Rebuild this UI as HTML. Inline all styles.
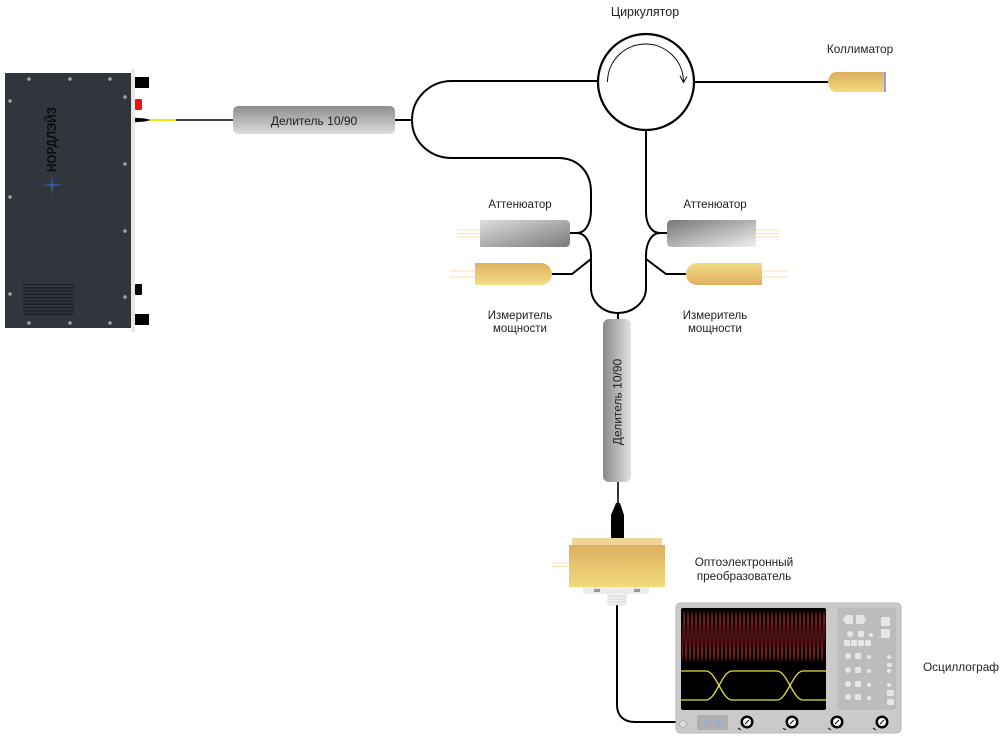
<!DOCTYPE html>
<html><head><meta charset="utf-8"><style>
html,body{margin:0;padding:0;background:#fff;}
svg{display:block;}
text{font-family:"Liberation Sans",sans-serif;fill:#222;}
</style></head><body>
<svg width="1002" height="740" viewBox="0 0 1002 740" xmlns="http://www.w3.org/2000/svg">
<defs>
<linearGradient id="gs1" x1="0" y1="0" x2="0" y2="1"><stop offset="0" stop-color="#8e8e8e"/><stop offset="1" stop-color="#dcdcdc"/></linearGradient>
<linearGradient id="gs2" x1="0" y1="0" x2="1" y2="0"><stop offset="0" stop-color="#888"/><stop offset="1" stop-color="#e2e2e2"/></linearGradient>
<linearGradient id="gaL" x1="0" y1="0" x2="1" y2="1"><stop offset="0" stop-color="#dedede"/><stop offset="1" stop-color="#7a7a7a"/></linearGradient>
<linearGradient id="gaR" x1="0" y1="0" x2="1" y2="1"><stop offset="0" stop-color="#777"/><stop offset="1" stop-color="#f0f0f0"/></linearGradient>
<linearGradient id="gpL" x1="0" y1="0" x2="0" y2="1"><stop offset="0" stop-color="#dfb062"/><stop offset="1" stop-color="#f3de88"/></linearGradient>
<linearGradient id="gpR" x1="0" y1="0" x2="0" y2="1"><stop offset="0" stop-color="#f2dc86"/><stop offset="1" stop-color="#dfb062"/></linearGradient>
<linearGradient id="gc" x1="0" y1="0" x2="0" y2="1"><stop offset="0" stop-color="#deae60"/><stop offset="1" stop-color="#f1da7c"/></linearGradient>
<linearGradient id="gst" x1="0" y1="0" x2="1" y2="1"><stop offset="0" stop-color="#3a2a8a"/><stop offset="1" stop-color="#2f8ad0"/></linearGradient>
<pattern id="wv" width="4" height="50" patternUnits="userSpaceOnUse" x="682" y="611">
<path d="M0,50 C1.1,50 0.9,0 2,0 C3.1,0 2.9,50 4,50" stroke="#b22626" stroke-width="0.8" fill="none"/>
</pattern>
</defs>

<!-- Laser box -->
<rect x="5" y="73" width="126" height="255" fill="#31363d"/>
<rect x="131" y="69" width="4" height="263" fill="#e9e7df"/>
<g fill="#a0a3a7">
<circle cx="29" cy="79" r="1.8"/><circle cx="70" cy="79" r="1.8"/><circle cx="110" cy="79" r="1.8"/>
<circle cx="29" cy="323" r="1.8"/><circle cx="70" cy="323" r="1.8"/><circle cx="110" cy="323" r="1.8"/>
<circle cx="10" cy="101" r="1.8"/><circle cx="10" cy="197" r="1.8"/><circle cx="10" cy="294" r="1.8"/>
<circle cx="125" cy="97" r="1.8"/><circle cx="125" cy="164" r="1.8"/><circle cx="125" cy="231" r="1.8"/><circle cx="125" cy="297" r="1.8"/>
</g>
<g stroke="#15181c" stroke-width="1">
<line x1="23" y1="284.5" x2="74" y2="284.5"/><line x1="23" y1="287.8" x2="74" y2="287.8"/>
<line x1="23" y1="291.1" x2="74" y2="291.1"/><line x1="23" y1="294.4" x2="74" y2="294.4"/>
<line x1="23" y1="297.7" x2="74" y2="297.7"/><line x1="23" y1="301" x2="74" y2="301"/>
<line x1="23" y1="304.3" x2="74" y2="304.3"/><line x1="23" y1="307.6" x2="74" y2="307.6"/>
<line x1="23" y1="310.9" x2="74" y2="310.9"/><line x1="23" y1="314" x2="74" y2="314"/>
</g>
<text transform="translate(56,139.5) rotate(-90)" text-anchor="middle" font-size="13" font-weight="bold" textLength="65" lengthAdjust="spacingAndGlyphs" style="fill:#0c0c0c">НОРДЛЭЙЗ</text>
<path d="M41,185 L51,184 L52,175 L53,184 L63,185 L53,186 L52,195 L51,186 Z" fill="url(#gst)"/>
<rect x="135" y="77" width="14" height="11" fill="#000"/>
<rect x="135" y="99" width="7" height="11" rx="1" fill="#f01010"/>
<rect x="135" y="284" width="7" height="11" rx="1" fill="#000"/>
<rect x="135" y="314" width="14" height="11" fill="#000"/>
<path d="M135,117.8 L145,118.5 L151,120 L145,121.5 L135,122.2 Z" fill="#000"/>
<line x1="150" y1="120" x2="176" y2="120" stroke="#f3e010" stroke-width="2"/>
<line x1="176" y1="120" x2="234" y2="120" stroke="#000" stroke-width="1.6"/>

<!-- Splitter 1 -->
<rect x="233" y="106" width="162" height="28" rx="5" fill="url(#gs1)"/>
<text x="314" y="125" text-anchor="middle" font-size="12">Делитель 10/90</text>

<!-- Fibers -->
<g fill="none" stroke="#000" stroke-width="2">
<path d="M395,120 L412,120"/>
<path d="M598,81 L452,81 C430,81 412,98 412,120 C412,142 430,158 452,158 L558,158 C578,158 591,172 591,192 L591,210 C591,224 585,233 577,233 L570,233"/>
<path d="M577,233 C585,233 591,242 591,256 L591,288 C591,302 603,313 618,313 C633,313 646,302 646,288 L646,256 C646,242 652,233 660,233 L667,233"/>
<path d="M646,130 L646,212 C646,225 652,233 660,233"/>
<path d="M552,274 L572,274 L591,259"/>
<path d="M646,259 L666,274 L686,274"/>
<path d="M694,82 L828,82"/>
<path d="M618,313 L618,319"/>
<path d="M617,605 L617,705 C617,716 624,722 635,722 L678,722"/>
</g>
<line x1="618" y1="482" x2="618" y2="505" stroke="#000" stroke-width="1.6"/>

<!-- Circulator -->
<circle cx="646" cy="82" r="48" fill="#fff" stroke="#000" stroke-width="2.2"/>
<path d="M607.5,82 A38,38 0 0 1 683.5,82" fill="none" stroke="#000" stroke-width="1"/>
<path d="M680,76 L683.5,82.5 L687,76.5" fill="none" stroke="#000" stroke-width="1"/>
<text x="645" y="16" text-anchor="middle" font-size="12.5">Циркулятор</text>

<!-- Collimator -->
<path d="M836,72 L885,72 L885,92 L836,92 A8,10 0 0 1 836,72 Z" fill="url(#gc)"/>
<rect x="884" y="72" width="2" height="20" fill="#9a9ae8"/>
<text x="860" y="53" text-anchor="middle" font-size="11.8">Коллиматор</text>

<!-- Attenuators -->
<g stroke="#f0d890" stroke-width="0.8">
<line x1="457" y1="230" x2="480" y2="230"/><line x1="457" y1="233.5" x2="480" y2="233.5"/><line x1="457" y1="237" x2="480" y2="237"/>
<line x1="756" y1="230" x2="779" y2="230"/><line x1="756" y1="233.5" x2="779" y2="233.5"/><line x1="756" y1="237" x2="779" y2="237"/>
<line x1="450" y1="271" x2="475" y2="271"/><line x1="450" y1="277" x2="475" y2="277"/>
<line x1="762" y1="271" x2="788" y2="271"/><line x1="762" y1="277" x2="788" y2="277"/>
</g>
<path d="M480,220 L565,220 Q570,220 570,225 L570,242 Q570,247 565,247 L480,247 Z" fill="url(#gaL)"/>
<path d="M672,220 L756,220 L756,247 L672,247 Q667,247 667,242 L667,225 Q667,220 672,220 Z" fill="url(#gaR)"/>
<text x="520" y="208" text-anchor="middle" font-size="11.5">Аттенюатор</text>
<text x="715" y="208" text-anchor="middle" font-size="11.5">Аттенюатор</text>

<!-- Power meters -->
<path d="M475,263 L541,263 A11,11 0 0 1 541,285 L475,285 Z" fill="url(#gpL)"/>
<path d="M697,263 L762,263 L762,285 L697,285 A11,11 0 0 1 697,263 Z" fill="url(#gpR)"/>
<text x="520" y="319" text-anchor="middle" font-size="11.5">Измеритель</text>
<text x="520" y="332" text-anchor="middle" font-size="11.5">мощности</text>
<text x="715" y="319" text-anchor="middle" font-size="11.5">Измеритель</text>
<text x="715" y="332" text-anchor="middle" font-size="11.5">мощности</text>

<!-- Vertical splitter -->
<rect x="603" y="319" width="28" height="163" rx="6" fill="url(#gs2)"/>
<text transform="translate(621.5,402) rotate(-90)" text-anchor="middle" font-size="12">Делитель 10/90</text>

<!-- Photodetector -->
<path d="M616,503 L620,503 L624,515 L624,539 L611,539 L611,515 Z" fill="#000"/>
<g stroke="#f0d890" stroke-width="0.8">
<line x1="552" y1="563" x2="569" y2="563"/><line x1="552" y1="566.5" x2="569" y2="566.5"/>
</g>
<rect x="572" y="538" width="90" height="8" fill="#efd598"/>
<rect x="569" y="545" width="96" height="42" fill="url(#gc)"/>
<rect x="583" y="587" width="66" height="7" fill="#ececec"/>
<rect x="594" y="589" width="6" height="3" fill="#999"/>
<rect x="634" y="589" width="6" height="3" fill="#999"/>
<rect x="608" y="592" width="18" height="13" rx="2" fill="#f2f2f2" stroke="#cfcfcf" stroke-width="0.6"/>
<g stroke="#c8c8c8" stroke-width="0.7"><line x1="609" y1="596" x2="625" y2="596"/><line x1="609" y1="599" x2="625" y2="599"/><line x1="609" y1="602" x2="625" y2="602"/></g>
<text x="744" y="566" text-anchor="middle" font-size="11.8">Оптоэлектронный</text>
<text x="744" y="580" text-anchor="middle" font-size="11.8">преобразователь</text>

<!-- Oscilloscope -->
<rect x="676" y="603" width="225" height="130" rx="4" fill="#cacaca" stroke="#b8b8b8" stroke-width="1"/>
<rect x="681" y="608" width="145" height="102" rx="2" fill="#000"/>
<rect x="682" y="611" width="143" height="50" fill="url(#wv)"/>
<g fill="none" stroke="#e6df3c" stroke-width="1.3">
<path d="M681,671 L706,671 C716,671 722,700 732,700 L777,700 C787,700 793,671 803,671 L826,671"/>
<path d="M681,700 L706,700 C716,700 722,671 732,671 L777,671 C787,671 793,700 803,700 L826,700"/>
</g>
<rect x="837" y="608" width="59" height="102" rx="3" fill="#bcbcbc"/>
<g fill="#e6e6e6">
<path d="M846,615 L853,615 L853,624 L846,624 L843,619.5 Z"/>
<path d="M856,615 L863,615 L866,619.5 L863,624 L856,624 Z"/>
<rect x="881" y="617" width="9" height="9" rx="1"/>
<rect x="881" y="629" width="9" height="9" rx="1"/>
<circle cx="850" cy="634" r="3"/>
<rect x="858" y="631" width="6" height="6" rx="1"/>
<circle cx="871" cy="635" r="2"/>
<rect x="844" y="640" width="6" height="6" rx="1"/><rect x="851" y="640" width="6" height="6" rx="1"/>
<rect x="858" y="640" width="6" height="6" rx="1"/><rect x="865" y="640" width="6" height="6" rx="1"/>
<circle cx="848" cy="656" r="3"/><rect x="855" y="653" width="6" height="6" rx="1"/><circle cx="869" cy="657" r="2"/>
<circle cx="848" cy="670" r="3"/><rect x="855" y="667" width="6" height="6" rx="1"/><circle cx="869" cy="671" r="2"/>
<circle cx="848" cy="684" r="3"/><rect x="855" y="681" width="6" height="6" rx="1"/><circle cx="869" cy="685" r="2"/>
<circle cx="848" cy="697" r="3"/><rect x="855" y="694" width="6" height="6" rx="1"/><circle cx="869" cy="698" r="2"/>
<circle cx="889" cy="657" r="2"/><rect x="887" y="663" width="5" height="4" rx="1"/>
<circle cx="889" cy="671" r="2"/><circle cx="889" cy="685" r="2"/>
<rect x="887" y="690" width="7" height="6" rx="1"/><rect x="887" y="699" width="7" height="6" rx="1"/>
</g>
<circle cx="683" cy="724" r="3.5" fill="#dcdcdc" stroke="#a8a8a8" stroke-width="0.8"/>
<rect x="697" y="715" width="31" height="15" rx="2" fill="#b0b0b0"/>
<circle cx="707" cy="722.5" r="3.5" fill="#9fadcc"/>
<circle cx="718" cy="722.5" r="3.5" fill="#9fadcc"/>
<g>
<g transform="translate(747,722)"><circle r="6.5" fill="#000"/><circle r="4" fill="#fff"/><line x1="-2" y1="2" x2="2" y2="-2" stroke="#000" stroke-width="1"/><line x1="-9" y1="6" x2="-6" y2="8" stroke="#000" stroke-width="1"/></g>
<g transform="translate(792,722)"><circle r="6.5" fill="#000"/><circle r="4" fill="#fff"/><line x1="-2" y1="2" x2="2" y2="-2" stroke="#000" stroke-width="1"/><line x1="-9" y1="6" x2="-6" y2="8" stroke="#000" stroke-width="1"/></g>
<g transform="translate(837,722)"><circle r="6.5" fill="#000"/><circle r="4" fill="#fff"/><line x1="-2" y1="2" x2="2" y2="-2" stroke="#000" stroke-width="1"/><line x1="-9" y1="6" x2="-6" y2="8" stroke="#000" stroke-width="1"/></g>
<g transform="translate(882,722)"><circle r="6.5" fill="#000"/><circle r="4" fill="#fff"/><line x1="-2" y1="2" x2="2" y2="-2" stroke="#000" stroke-width="1"/><line x1="-9" y1="6" x2="-6" y2="8" stroke="#000" stroke-width="1"/></g>
</g>
<text x="961" y="671" text-anchor="middle" font-size="11.8">Осциллограф</text>
</svg>
</body></html>
